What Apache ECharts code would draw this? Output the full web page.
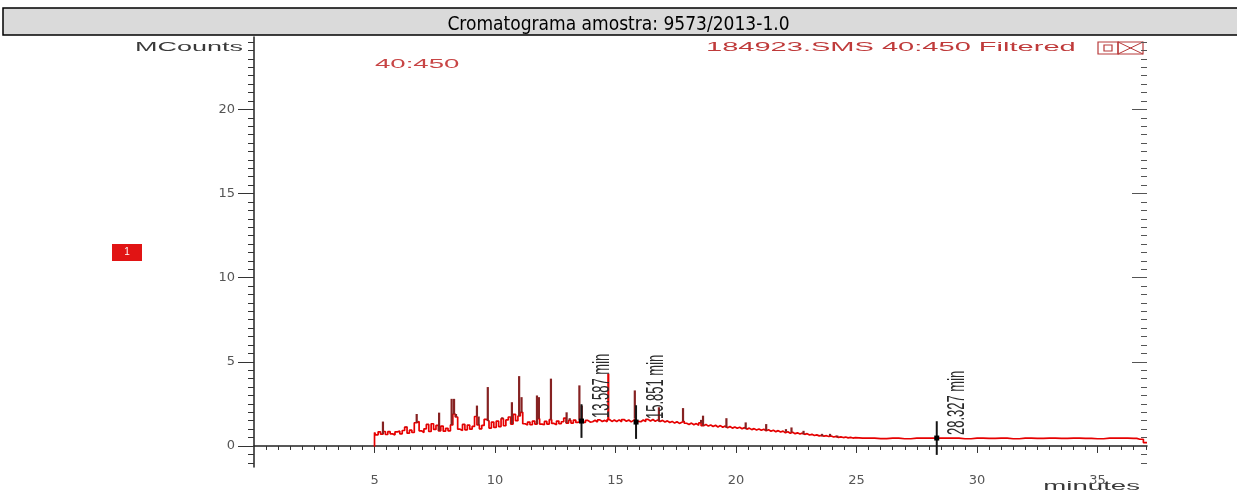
<!DOCTYPE html>
<html>
<head>
<meta charset="utf-8">
<script src="https://cdn.jsdelivr.net/npm/echarts@6/dist/echarts.min.js"></script>
<style>
html,body{margin:0;padding:0;background:#fff;}
#chart{width:1237px;height:493px;}
</style>
</head>
<body>
<div id="chart"></div>
<script>
// ---- data ----
const titleText = 'Cromatograma amostra: 9573/2013-1.0';
const xTickLabels = [5, 10, 15, 20, 25, 30, 35];
const yTickLabels = [0, 5, 10, 15, 20];

// chromatogram trace: vertical start, regular samples (0.1 min) from 5.0 to 25.0, sparse tail
const traceHead = [[5.0, -0.05]];
const traceStart = 5.0;
const traceStep = 0.1;
const traceValues = [
  0.80, 0.66, 0.84, 0.70, 0.86, 0.68, 0.85, 0.72, 0.66, 0.84,
  0.88, 0.72, 0.92, 1.12, 0.76, 0.94, 0.80, 1.38, 1.45, 0.90,
  0.80, 1.02, 1.28, 0.86, 1.32, 0.98, 1.22, 0.90, 1.18, 0.88,
  1.05, 0.90, 1.25, 1.90, 1.72, 1.00, 0.92, 1.28, 0.96, 1.24,
  1.00, 1.16, 1.75, 1.25, 1.02, 1.22, 1.58, 1.48, 1.06, 1.42,
  1.10, 1.48, 1.15, 1.62, 1.20, 1.55, 1.72, 1.30, 1.88, 1.50,
  1.78, 2.00, 1.32, 1.24, 1.42, 1.26, 1.48, 1.30, 1.62, 1.30,
  1.26, 1.46, 1.30, 1.56, 1.34, 1.26, 1.48, 1.32, 1.44, 1.66,
  1.36, 1.52, 1.36, 1.54, 1.40, 1.50, 1.56, 1.40, 1.52, 1.42,
  1.44, 1.53, 1.42, 1.55, 1.45, 1.52, 1.44, 1.57, 1.46, 1.54,
  1.45, 1.55, 1.44, 1.57, 1.47, 1.54, 1.43, 1.52, 1.62, 1.46,
  1.44, 1.54, 1.46, 1.58, 1.48, 1.57, 1.47, 1.55, 1.45, 1.52,
  1.42, 1.49, 1.39, 1.46, 1.36, 1.44, 1.34, 1.41, 1.47, 1.35,
  1.28, 1.36, 1.26, 1.33, 1.23, 1.37, 1.20, 1.28, 1.18, 1.25,
  1.16, 1.23, 1.13, 1.21, 1.11, 1.18, 1.08, 1.16, 1.06, 1.13,
  1.05, 1.11, 1.02, 1.09, 1.00, 1.06, 0.97, 1.03, 0.95, 1.01,
  0.93, 0.99, 0.90, 0.96, 0.88, 0.93, 0.85, 0.91, 0.83, 0.88,
  0.78, 0.84, 0.75, 0.81, 0.73, 0.78, 0.71, 0.76, 0.69, 0.73,
  0.65, 0.69, 0.62, 0.66, 0.60, 0.63, 0.58, 0.61, 0.56, 0.59,
  0.53, 0.57, 0.51, 0.54, 0.50, 0.53, 0.48, 0.51, 0.47, 0.50,
  0.47
];
const traceTail = [
  [25.5, 0.46], [26, 0.44], [26.5, 0.46], [27, 0.43], [27.5, 0.46], [28, 0.46],
  [28.5, 0.47], [29, 0.46], [29.5, 0.43], [30, 0.46], [30.5, 0.45], [31, 0.46],
  [31.5, 0.43], [32, 0.46], [32.5, 0.45], [33, 0.46], [33.5, 0.45], [34, 0.46],
  [34.5, 0.45], [35, 0.43], [35.5, 0.46], [36, 0.46], [36.5, 0.45], [36.75, 0.40], [37.05, 0.20]
];

// dark-red peaks (retention time, apex MCounts)
const peakTimes   = [5.35, 6.32, 6.75, 7.20, 7.68, 8.20, 8.30, 8.38, 8.70, 9.25, 9.32, 9.70, 10.30, 10.70, 11.00, 11.10, 11.74, 11.82, 12.32, 12.97, 13.10, 13.50, 13.60, 15.80, 16.80, 17.80, 18.55, 18.63, 19.60, 20.40, 21.25, 22.07, 22.30, 22.80, 23.57, 23.90, 24.20];
const peakHeights = [1.45, 1.15, 1.90, 1.30, 1.98, 2.80, 2.80, 1.90, 1.30, 2.40, 1.75, 3.50, 1.70, 2.60, 4.15, 2.90, 3.00, 2.90, 4.00, 2.00, 1.65, 3.60, 2.40, 3.30, 2.30, 2.25, 1.55, 1.80, 1.65, 1.40, 1.30, 1.00, 1.10, 0.90, 0.72, 0.72, 0.62];
// bright-red peak
const redPeakTimes = [14.70];
const redPeakHeights = [4.30];

// retention-time markers
const markerTimes = [13.587, 15.851, 28.327];
const markerLevels = [1.48, 1.42, 0.47];
const markerLabels = ['13.587 min', '15.851 min', '28.327 min'];

// ---- build ----
const traceData = traceHead
  .concat(traceValues.map((v, i) => [Math.round((traceStart + i * traceStep) * 100) / 100, v]))
  .concat(traceTail);

function traceAt(t) {
  let best = traceData[1], bd = Infinity;
  for (const p of traceData) { const d = Math.abs(p[0] - t); if (d < bd) { bd = d; best = p; } }
  return best[1];
}
const peakData = peakTimes.map((t, i) => [t, traceAt(t), peakHeights[i]]);
const redPeakData = redPeakTimes.map((t, i) => [t, traceAt(t), redPeakHeights[i]]);
const markerData = markerTimes.map((t, i) => [t, markerLevels[i]]);

const X_MIN = 0, X_MAX = 37.05, Y_MIN = -1.25, Y_MAX = 24.3;
const xMinor = [], yMinor = [];
for (let v = 0.5; v <= 37; v += 0.5) { if (Math.abs(v % 5) > 1e-6) xMinor.push(v); }
for (let v = -1; v <= 24; v += 0.5) { if (Math.abs(v % 5) > 1e-6) yMinor.push(v); }

const axisFont = 'Liberation Sans';
const tickLabelStyle = { fontFamily: 'DejaVu Sans', fontSize: 13, color: '#555' };

function stickRender(color, width) {
  return function (params, api) {
    const t = api.value(0), b = api.value(1), h = api.value(2);
    const p0 = api.coord([t, b]), p1 = api.coord([t, h]);
    return { type: 'line', shape: { x1: p0[0], y1: p0[1], x2: p1[0], y2: p1[1] },
             style: { stroke: color, lineWidth: width } };
  };
}

const chart = echarts.init(document.getElementById('chart'));
chart.setOption({
  animation: false,
  backgroundColor: '#fff',
  title: {
    text: titleText, left: 'center', top: 11,
    textStyle: { fontFamily: "'Liberation Sans Narrow', 'DejaVu Sans Condensed', Arial", fontSize: 19, fontWeight: 'normal', color: '#000' }
  },
  grid: { left: 254, right: 90, top: 37, bottom: 26 },
  xAxis: [
    { type: 'value', min: X_MIN, max: X_MAX, position: 'bottom',
      axisLine: { show: true, lineStyle: { color: '#222', width: 1.5 } },
      axisTick: { show: true, customValues: xTickLabels, length: 7, lineStyle: { color: '#333' } },
      axisLabel: Object.assign({ show: true, customValues: xTickLabels, margin: 7 }, tickLabelStyle),
      splitLine: { show: false } },
    { type: 'value', min: X_MIN, max: X_MAX, position: 'bottom',
      axisLine: { show: false },
      axisTick: { show: true, customValues: xMinor, length: 4, lineStyle: { color: '#333' } },
      axisLabel: { show: false }, splitLine: { show: false } }
  ],
  yAxis: [
    { type: 'value', min: Y_MIN, max: Y_MAX, position: 'left',
      axisLine: { show: true, lineStyle: { color: '#222', width: 1.5 } },
      axisTick: { show: true, customValues: yTickLabels, length: 16, lineStyle: { color: '#333' } },
      axisLabel: Object.assign({ show: true, customValues: yTickLabels, margin: 19 }, tickLabelStyle),
      splitLine: { show: false } },
    { type: 'value', min: Y_MIN, max: Y_MAX, position: 'left',
      axisLine: { show: false },
      axisTick: { show: true, customValues: yMinor, length: 6, lineStyle: { color: '#333' } },
      axisLabel: { show: false }, splitLine: { show: false } },
    { type: 'value', min: Y_MIN, max: Y_MAX, position: 'right',
      axisLine: { show: false },
      axisTick: { show: true, inside: true, customValues: yTickLabels, length: 15, lineStyle: { color: '#555' } },
      axisLabel: { show: false }, splitLine: { show: false } },
    { type: 'value', min: Y_MIN, max: Y_MAX, position: 'right',
      axisLine: { show: false },
      axisTick: { show: true, inside: true, customValues: yMinor, length: 6, lineStyle: { color: '#555' } },
      axisLabel: { show: false }, splitLine: { show: false } }
  ],
  series: [
    { type: 'line', name: 'trace', data: traceData, xAxisIndex: 0, yAxisIndex: 0, step: 'middle',
      symbol: 'none', lineStyle: { color: '#e60000', width: 1.7 }, z: 3 },
    { type: 'custom', name: 'peaks', data: peakData, xAxisIndex: 0, yAxisIndex: 0,
      renderItem: stickRender('#862222', 2.2), z: 4 },
    { type: 'custom', name: 'redPeaks', data: redPeakData, xAxisIndex: 0, yAxisIndex: 0,
      renderItem: stickRender('#e60000', 2.2), z: 4 },
    { type: 'custom', name: 'markers', data: markerData, xAxisIndex: 0, yAxisIndex: 0, z: 5,
      renderItem: function (params, api) {
        const t = api.value(0), lv = api.value(1);
        const label = markerLabels[params.dataIndex];
        const p = api.coord([t, lv]), top = api.coord([t, lv + 1.0]), bot = api.coord([t, lv - 1.0]);
        return { type: 'group', children: [
          { type: 'line', shape: { x1: p[0], y1: top[1], x2: p[0], y2: bot[1] }, style: { stroke: '#151515', lineWidth: 2 } },
          { type: 'rect', shape: { x: p[0] - 2.5, y: p[1] - 2.5, width: 5, height: 5 }, style: { fill: '#000' } },
          { type: 'text', x: p[0] + 8, y: p[1] - 3, rotation: Math.PI / 2, scaleY: 1.9,
            style: { text: label, fill: '#2a2a2a', fontSize: 13, fontFamily: axisFont, align: 'left', verticalAlign: 'top' } }
        ] };
      } }
  ],
  graphic: [
    { type: 'rect', z: 0, shape: { x: 3, y: 8, width: 1236, height: 27 }, style: { fill: '#dadada', stroke: '#000', lineWidth: 1.5 } },
    { type: 'text', x: 243, y: 48, scaleX: 2.25, style: { text: 'MCounts', fill: '#3a3a3a', fontSize: 12, fontFamily: axisFont, align: 'right', verticalAlign: 'middle' } },
    { type: 'text', x: 375, y: 65, scaleX: 2.3, style: { text: '40:450', fill: '#c84545', fontSize: 12, fontFamily: axisFont, align: 'left', verticalAlign: 'middle' } },
    { type: 'text', x: 706, y: 48, scaleX: 2.42, style: { text: '184923.SMS 40:450 Filtered', fill: '#bf3a3a', fontSize: 12, fontFamily: axisFont, align: 'left', verticalAlign: 'middle' } },
    { type: 'text', x: 1140, y: 487, scaleX: 2.3, style: { text: 'minutes', fill: '#3a3a3a', fontSize: 12, fontFamily: axisFont, align: 'right', verticalAlign: 'middle' } },
    { type: 'rect', shape: { x: 112, y: 244, width: 30, height: 17 }, style: { fill: '#e11414' } },
    { type: 'text', x: 127, y: 252.5, style: { text: '1', fill: '#fff', fontSize: 10, fontFamily: axisFont, align: 'center', verticalAlign: 'middle' } },
    { type: 'rect', shape: { x: 1098, y: 42, width: 20, height: 12 }, style: { fill: 'none', stroke: '#b83a3a', lineWidth: 1.2 } },
    { type: 'rect', shape: { x: 1104, y: 45, width: 8, height: 6 }, style: { fill: 'none', stroke: '#b83a3a', lineWidth: 1.2 } },
    { type: 'rect', shape: { x: 1118, y: 42, width: 25, height: 12 }, style: { fill: 'none', stroke: '#b83a3a', lineWidth: 1.2 } },
    { type: 'line', shape: { x1: 1118, y1: 42, x2: 1143, y2: 54 }, style: { stroke: '#b83a3a', lineWidth: 1 } },
    { type: 'line', shape: { x1: 1118, y1: 54, x2: 1143, y2: 42 }, style: { stroke: '#b83a3a', lineWidth: 1 } }
  ]
});
</script>
</body>
</html>
